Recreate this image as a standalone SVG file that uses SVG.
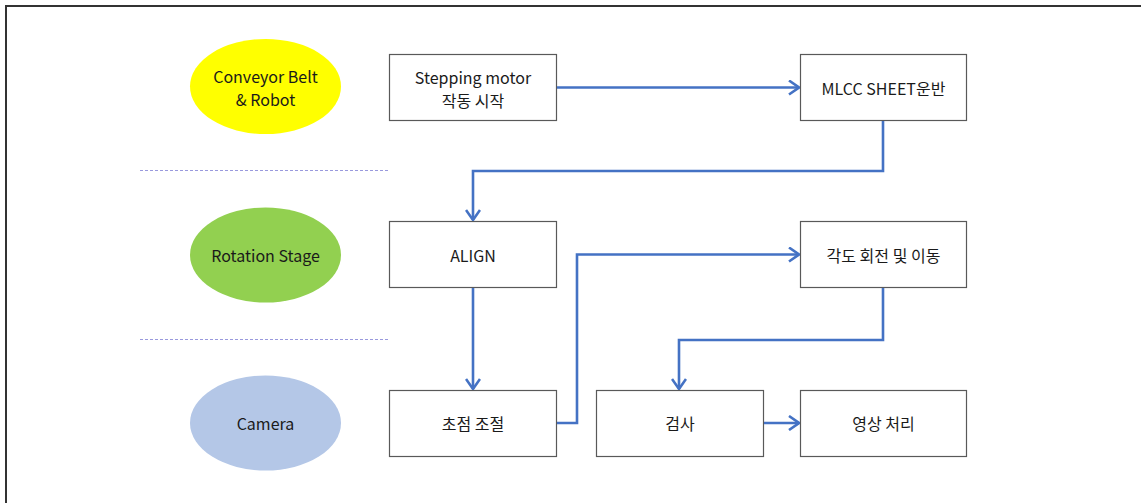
<svg xmlns="http://www.w3.org/2000/svg" width="1141" height="503" viewBox="0 0 1141 503">
  <style>
    .box { fill: #ffffff; stroke: #595959; stroke-width: 1.2; }
    .lbl { font-family: "Noto Sans CJK KR", "Noto Sans", sans-serif; font-size: 16px; font-weight: 400; fill: #1a1a1a; text-anchor: middle; dominant-baseline: central; }
    .flow { fill: none; stroke: #4472C4; stroke-width: 2.6; marker-end: url(#chev); }
    .sep { stroke: #9999dd; stroke-width: 1; stroke-dasharray: 3 2; }
  </style>
  <defs>
    <marker id="chev" viewBox="0 0 12 16" refX="11" refY="8" markerWidth="12" markerHeight="16" markerUnits="userSpaceOnUse" orient="auto">
      <path d="M1,1 L11,8 L1,15" fill="none" stroke="#4472C4" stroke-width="2.6"/>
    </marker>
  </defs>

  <rect width="1141" height="503" fill="#ffffff"/>
  <!-- outer frame (top and left edges) -->
  <path d="M6,503 V6 H1141" fill="none" stroke="#333333" stroke-width="2"/>

  <!-- lane separators -->
  <line class="sep" x1="140" y1="170.5" x2="389" y2="170.5"/>
  <line class="sep" x1="140" y1="339.5" x2="389" y2="339.5"/>

  <!-- lane labels -->
  <g id="lane-conveyor">
    <ellipse cx="265.5" cy="86.5" rx="75.5" ry="47.5" fill="#FFFF00"/>
    <text class="lbl" x="265.5" y="75.5">Conveyor Belt</text>
    <text class="lbl" x="265.5" y="98.5">&amp; Robot</text>
  </g>
  <g id="lane-rotation">
    <ellipse cx="265.5" cy="255" rx="75.5" ry="47.5" fill="#92D050"/>
    <text class="lbl" x="265.5" y="255">Rotation Stage</text>
  </g>
  <g id="lane-camera">
    <ellipse cx="265.5" cy="423" rx="75.5" ry="47.5" fill="#B4C7E7"/>
    <text class="lbl" x="265.5" y="423">Camera</text>
  </g>

  <!-- process steps -->
  <g id="step-motor">
    <rect class="box" x="389.5" y="54.5" width="167" height="66"/>
    <text class="lbl" x="473" y="76.5">Stepping motor</text>
    <text class="lbl" x="473" y="99.5">작동 시작</text>
  </g>
  <g id="step-transport">
    <rect class="box" x="800.5" y="54.5" width="166" height="66"/>
    <text class="lbl" x="883.5" y="88">MLCC SHEET운반</text>
  </g>
  <g id="step-align">
    <rect class="box" x="389.5" y="221.5" width="167" height="66"/>
    <text class="lbl" x="473" y="255">ALIGN</text>
  </g>
  <g id="step-rotate">
    <rect class="box" x="800.5" y="221.5" width="166" height="66"/>
    <text class="lbl" x="883.5" y="255">각도 회전 및 이동</text>
  </g>
  <g id="step-focus">
    <rect class="box" x="389.5" y="390.5" width="167" height="66"/>
    <text class="lbl" x="473" y="423">초점 조절</text>
  </g>
  <g id="step-inspect">
    <rect class="box" x="596.5" y="390.5" width="167" height="66"/>
    <text class="lbl" x="680" y="423">검사</text>
  </g>
  <g id="step-image">
    <rect class="box" x="800.5" y="390.5" width="166" height="66"/>
    <text class="lbl" x="883.5" y="423">영상 처리</text>
  </g>

  <!-- connectors -->
  <g id="connectors">
    <path class="flow" d="M557,87.5 H799"/>
    <path class="flow" d="M883,121 V171 H473 V220"/>
    <path class="flow" d="M473,288 V389"/>
    <path class="flow" d="M557,423 H577 V254.5 H799"/>
    <path class="flow" d="M883,288 V340 H679 V389"/>
    <path class="flow" d="M764,423 H799"/>
  </g>
</svg>
